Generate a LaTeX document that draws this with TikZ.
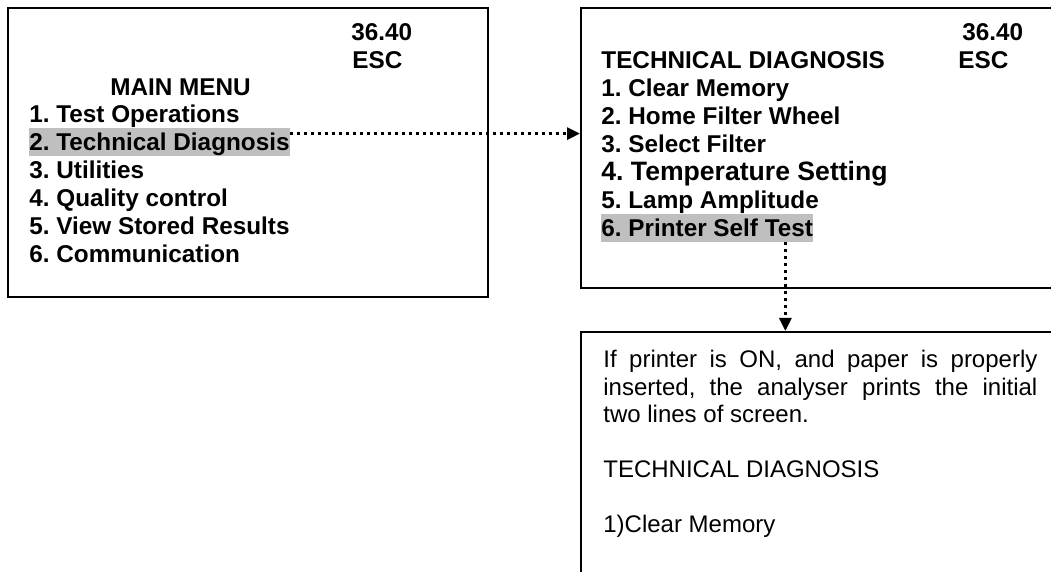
\documentclass[tikz,border=0pt]{standalone}
\usepackage{fontspec}
\setmainfont{Liberation Sans}
\usetikzlibrary{arrows.meta}
\frenchspacing

\tikzset{
  screen/.style={draw, line width=1pt, anchor=north west, inner sep=0pt},
  entry/.style={anchor=base west, inner sep=0pt, font=\bfseries\fontsize{12.15}{14}\selectfont},
  bigentry/.style={entry, font=\bfseries\fontsize{13.3}{15}\selectfont},
  picked/.style={entry, fill=gray!50, text height=11.5pt, text depth=2.5pt},
  notetext/.style={anchor=north west, inner sep=0pt, align=left, font=\fontsize{12}{13.75}\selectfont},
  link/.style={line width=1.5pt, dash pattern=on 1.5pt off 2pt, -{Triangle[length=6.5pt,width=6pt]}},
}

\begin{document}
\begin{tikzpicture}[x=0.5pt,y=-0.5pt]
  \useasboundingbox (0,0) rectangle (1051,572);
  \clip (0,0) rectangle (1051,572);
  % Screens
  \node[screen, minimum width=240pt, minimum height=144.5pt] (mainbox) at (7,7) {};
  \node[screen, minimum width=250pt, minimum height=140pt] (diagbox) at (580,7) {};
  \node[screen, minimum width=250pt, minimum height=130pt] (notebox) at (580,331) {};
  % Main menu screen
  \node[entry] (mtime) at (351,41) {36.40};
  \node[entry] (mesc) at (352,69) {ESC};
  \node[entry] (mtitle) at (110,96) {MAIN MENU};
  \foreach \i/\t/\s in {1/Test Operations/entry, 2/Technical Diagnosis/picked,
      3/Utilities/entry, 4/Quality control/entry, 5/View Stored Results/entry,
      6/Communication/entry} {
    \node[\s] (m\i) at (29,{123+28*(\i-1)}) {\i. \t};
  }
  % Technical diagnosis screen
  \node[entry] (dtime) at (962,41) {36.40};
  \node[entry] (desc) at (958,69) {ESC};
  \node[entry] (dtitle) at (601,69) {TECHNICAL DIAGNOSIS};
  \foreach \i/\t/\s in {1/Clear Memory/entry, 2/Home Filter Wheel/entry,
      3/Select Filter/entry, 4/Temperature Setting/bigentry,
      5/Lamp Amplitude/entry, 6/Printer Self Test/picked} {
    \node[\s] (d\i) at (601,{97+28*(\i-1)}) {\i. \t};
  }
  % Printer self test note
  \node[notetext] (note) at (603,350) {%
    \makebox[217pt][s]{If printer is ON, and paper is properly}\\
    \makebox[217pt][s]{inserted, the analyser prints the initial}\\
    two lines of screen.\\[13.75pt]
    TECHNICAL DIAGNOSIS\\[13.75pt]
    1)Clear Memory};
  % Links
  \draw[link] ([yshift=-3pt]m2.north east) -- ([yshift=-3pt]m2.north east -| diagbox.west);
  \draw[link] ([xshift=-14pt]d6.south east) -- ([xshift=-14pt]d6.south east |- notebox.north);
\end{tikzpicture}
\end{document}
